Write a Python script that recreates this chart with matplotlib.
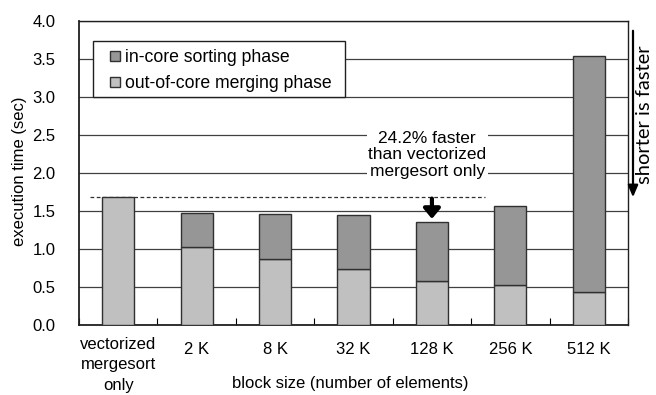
import matplotlib
matplotlib.use("Agg")
import matplotlib.pyplot as plt
from matplotlib.patches import Rectangle, FancyArrowPatch
import numpy as np

categories = ["vectorized\nmergesort\nonly", "2 K", "8 K", "32 K", "128 K", "256 K", "512 K"]
merging = [1.69, 1.02, 0.87, 0.74, 0.58, 0.52, 0.43]
sorting = [0.00, 0.46, 0.59, 0.71, 0.78, 1.05, 3.11]
baseline = 1.69
yticks = [0.0, 0.5, 1.0, 1.5, 2.0, 2.5, 3.0, 3.5, 4.0]
series_names = ["in-core sorting phase", "out-of-core merging phase"]

plt.rcParams['font.family'] = ['Liberation Sans', 'DejaVu Sans']
FS = 12

W, H = 656, 395
fig = plt.figure(figsize=(W / 100, H / 100), dpi=100)
AX_L, AX_R, AX_T, AX_B = 79, 628, 21, 325
ax = fig.add_axes([AX_L / W, 1 - AX_B / H, (AX_R - AX_L) / W, (AX_B - AX_T) / H])


def axfrac(px, py):
    return ((px - AX_L) / (AX_R - AX_L), (AX_B - py) / (AX_B - AX_T))


x = np.arange(len(categories))
light = "#c0c0c0"
dark = "#969696"
edge = "#303030"
w = 0.41
ax.bar(x, merging, w, color=light, edgecolor=edge, linewidth=1.0, zorder=3)
ax.bar(x[1:], sorting[1:], w, bottom=merging[1:], color=dark, edgecolor=edge,
       linewidth=1.0, zorder=3)

ax.set_xlim(-0.5, len(categories) - 0.5)
ax.set_ylim(0, 4.0)
ax.set_yticks(yticks)
ax.set_yticklabels([f"{v:.1f}" for v in yticks], fontsize=FS)
ax.yaxis.grid(True, color="#404040", linewidth=0.9, zorder=0)
ax.set_axisbelow(True)
ax.set_xticks(x)
ax.set_xticklabels([""] + categories[1:], fontsize=FS)
ax.tick_params(axis='x', length=0, pad=12)
ax.set_xticks(np.arange(-0.5, len(categories) - 0.4, 1.0), minor=True)
ax.tick_params(axis='x', which='minor', direction='in', length=5, width=0.8)
ax.tick_params(axis='y', direction='out', length=0, pad=17)
for s in ax.spines.values():
    s.set_color("#202020")
    s.set_linewidth(1.0)
ax.spines['left'].set_linewidth(1.3)
ax.spines['bottom'].set_linewidth(1.3)

# first category label, drawn on its own (multi-line)
ax.text(0, axfrac(0, 337)[1], categories[0], transform=ax.get_xaxis_transform(),
        ha="center", va="top", fontsize=FS, linespacing=1.45)

ax.set_ylabel("execution time (sec)", fontsize=FS)
ax.yaxis.set_label_coords(axfrac(27, 0)[0], axfrac(0, 171)[1])
ax.set_xlabel("block size (number of elements)", fontsize=FS)
ax.xaxis.set_label_coords(axfrac(350, 0)[0], axfrac(0, 376)[1])

# dashed baseline
ax.plot([-0.36, 4.68], [baseline, baseline], ls=(0, (3, 2)), color="#303030",
        lw=0.9, zorder=2)

# legend box drawn by hand to match the original layout
lx0, ly0 = axfrac(93, 97)
lx1, ly1 = axfrac(345, 41)
ax.add_patch(Rectangle((lx0, ly0), lx1 - lx0, ly1 - ly0, transform=ax.transAxes,
                       facecolor="white", edgecolor="#202020", lw=1.0, zorder=6))
for i, (name, col) in enumerate(zip(series_names, [dark, light])):
    py = 56 + 26 * i
    sx0, sy0 = axfrac(110, py + 5)
    sx1, sy1 = axfrac(120, py - 5)
    ax.add_patch(Rectangle((sx0, sy0), sx1 - sx0, sy1 - sy0, transform=ax.transAxes,
                           facecolor=col, edgecolor=edge, lw=1.0, zorder=7))
    tx, ty = axfrac(125, py)
    ax.text(tx, ty, name, transform=ax.transAxes, ha="left", va="center_baseline",
            fontsize=12.7, zorder=7)

# annotation
ax.text(3.94, 2.24, "24.2% faster\nthan vectorized\nmergesort only", ha="center",
        va="center", fontsize=12.5, linespacing=1.12, zorder=5,
        bbox=dict(facecolor="white", edgecolor="none", pad=1))
ax.annotate("", xy=(4.0, baseline - 0.33), xytext=(4.0, baseline + 0.01),
            arrowprops=dict(arrowstyle="-|>,head_width=0.5,head_length=0.6",
                            color="black", lw=3), zorder=6)

# right side arrow and text
fig.patches.append(FancyArrowPatch(
    (633 / W, 1 - 28 / H), (633 / W, 1 - 200 / H), transform=fig.transFigure,
    arrowstyle="-|>,head_width=3,head_length=7", color="black", lw=1.6))
fig.text(644 / W, 1 - 114.5 / H, "shorter is faster", rotation=90, ha="center",
         va="center", fontsize=14.5, family=["Lato", "DejaVu Sans"])

fig.savefig("out.png", dpi=100)
